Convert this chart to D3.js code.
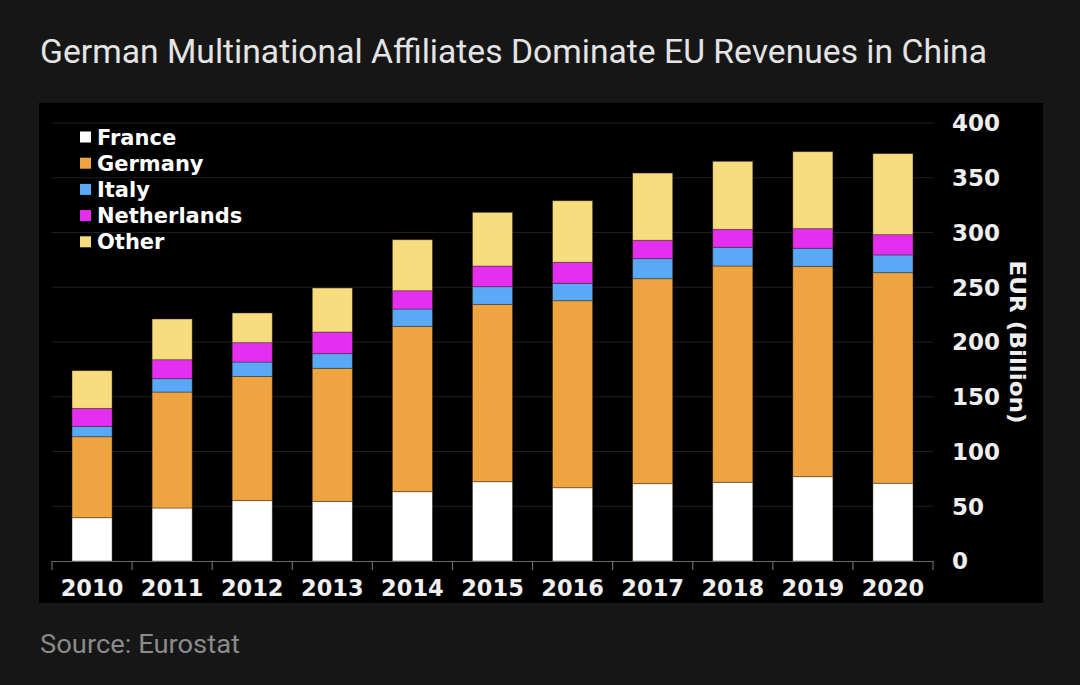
<!DOCTYPE html>
<html>
<head>
<meta charset="utf-8">
<script src="https://cdn.jsdelivr.net/npm/d3@7"></script>
<style>
  html, body { margin: 0; padding: 0; background: #161616; }
  svg { display: block; }
</style>
</head>
<body>
<svg id="chart" width="1080" height="685"></svg>
<script>
const years = ["2010","2011","2012","2013","2014","2015","2016","2017","2018","2019","2020"];
const seriesNames = ["France","Germany","Italy","Netherlands","Other"];
const france      = [39.5, 48.4, 55.1, 54.5, 63.3, 72.4, 66.9, 70.6, 71.9, 77.0, 71.0];
const germany     = [74.0, 105.9, 113.5, 121.5, 151.0, 162.0, 170.8, 187.2, 197.5, 192.1, 192.3];
const italy       = [9.5, 12.2, 13.1, 13.3, 15.8, 16.1, 15.9, 18.3, 17.1, 16.5, 16.2];
const netherlands = [16.4, 17.3, 17.7, 19.8, 16.7, 18.9, 19.2, 16.8, 16.4, 17.9, 18.5];
const other       = [34.4, 37.2, 27.1, 40.2, 46.6, 49.0, 56.2, 61.4, 62.1, 70.3, 74.0];
const yTicks = [0, 50, 100, 150, 200, 250, 300, 350, 400];
const colors = ["#ffffff", "#eea541", "#5aa9f6", "#e42ff0", "#f8dd80"];

const seriesValues = [france, germany, italy, netherlands, other];
const rows = years.map((y, i) => {
  const r = { year: y };
  seriesNames.forEach((s, k) => r[s] = seriesValues[k][i]);
  return r;
});

const svg = d3.select("#chart");

// background panel
svg.append("rect").attr("x", 39).attr("y", 103).attr("width", 1004).attr("height", 500).attr("fill", "#000");

const x = d3.scaleBand().domain(years).range([52, 933]).paddingInner(0.5).paddingOuter(0.25);
const y = d3.scaleLinear().domain([0, 400]).range([561, 123]);

// gridlines
svg.append("g").selectAll("line").data(yTicks.filter(d => d > 0)).join("line")
  .attr("x1", 52).attr("x2", 933)
  .attr("y1", d => y(d)).attr("y2", d => y(d))
  .attr("stroke", "#1f1f1f").attr("stroke-width", 1.2);

// bars
const stack = d3.stack().keys(seriesNames);
const stacked = stack(rows);
svg.append("g").selectAll("g").data(stacked).join("g")
  .attr("fill", (d, i) => colors[i])
  .selectAll("rect").data(d => d).join("rect")
  .attr("x", d => x(d.data.year))
  .attr("width", x.bandwidth())
  .attr("y", d => y(d[1]))
  .attr("height", d => y(d[0]) - y(d[1]))
  .attr("stroke", "rgba(60,40,20,0.55)")
  .attr("stroke-width", 0.8);

// x axis baseline & ticks
const step = x.step();
const xAxisG = svg.append("g");
xAxisG.append("line").attr("x1", 52).attr("x2", 933).attr("y1", 561.5).attr("y2", 561.5)
  .attr("stroke", "#6a6a6a").attr("stroke-width", 1.2);
const boundaries = years.map(yr => x(yr) - step * 0.25).concat([x(years[years.length - 1]) + x.bandwidth() + step * 0.25]);
xAxisG.selectAll("line.tk").data(boundaries).join("line").attr("class", "tk")
  .attr("x1", d => d).attr("x2", d => d).attr("y1", 561).attr("y2", 570)
  .attr("stroke", "#6a6a6a").attr("stroke-width", 1.2);
xAxisG.selectAll("text").data(years).join("text")
  .attr("x", d => x(d) + x.bandwidth() / 2)
  .attr("y", 596)
  .attr("text-anchor", "middle")
  .attr("fill", "#eeeeee")
  .attr("font-family", "DejaVu Sans")
  .attr("font-weight", "bold")
  .attr("font-size", 22.5)
  .text(d => d);

// y axis labels
svg.append("g").selectAll("text").data(yTicks).join("text")
  .attr("x", 952)
  .attr("y", d => y(d))
  .attr("dy", "0.36em")
  .attr("fill", "#eeeeee")
  .attr("font-family", "DejaVu Sans")
  .attr("font-weight", "bold")
  .attr("font-size", 23)
  .text(d => d);

// y axis title
svg.append("text")
  .attr("transform", "translate(1010,342) rotate(90)")
  .attr("text-anchor", "middle")
  .attr("fill", "#eeeeee")
  .attr("font-family", "DejaVu Sans")
  .attr("font-weight", "bold")
  .attr("font-size", 22)
  .attr("textLength", 163)
  .attr("lengthAdjust", "spacingAndGlyphs")
  .text("EUR (Billion)");

// legend
const legend = svg.append("g").selectAll("g").data(seriesNames).join("g")
  .attr("transform", (d, i) => `translate(80, ${137 + i * 26.2})`);
legend.append("rect").attr("x", 0).attr("y", -5.5).attr("width", 11).attr("height", 11)
  .attr("fill", (d, i) => colors[i]);
legend.append("text").attr("x", 17).attr("y", 0).attr("dy", "0.36em")
  .attr("fill", "#ffffff")
  .attr("font-family", "DejaVu Sans")
  .attr("font-weight", "bold")
  .attr("font-size", 21)
  .text(d => d);

// title
svg.append("text")
  .attr("x", 40).attr("y", 63)
  .attr("fill", "#e4e4e4")
  .attr("font-family", "Roboto")
  .attr("font-size", 33)
  .attr("textLength", 947)
  .attr("lengthAdjust", "spacingAndGlyphs")
  .text("German Multinational Affiliates Dominate EU Revenues in China");

// source
svg.append("text")
  .attr("x", 40).attr("y", 653)
  .attr("fill", "#8a8a8a")
  .attr("font-family", "Roboto")
  .attr("font-size", 26)
  .attr("textLength", 200)
  .attr("lengthAdjust", "spacingAndGlyphs")
  .text("Source: Eurostat");
</script>
</body>
</html>
